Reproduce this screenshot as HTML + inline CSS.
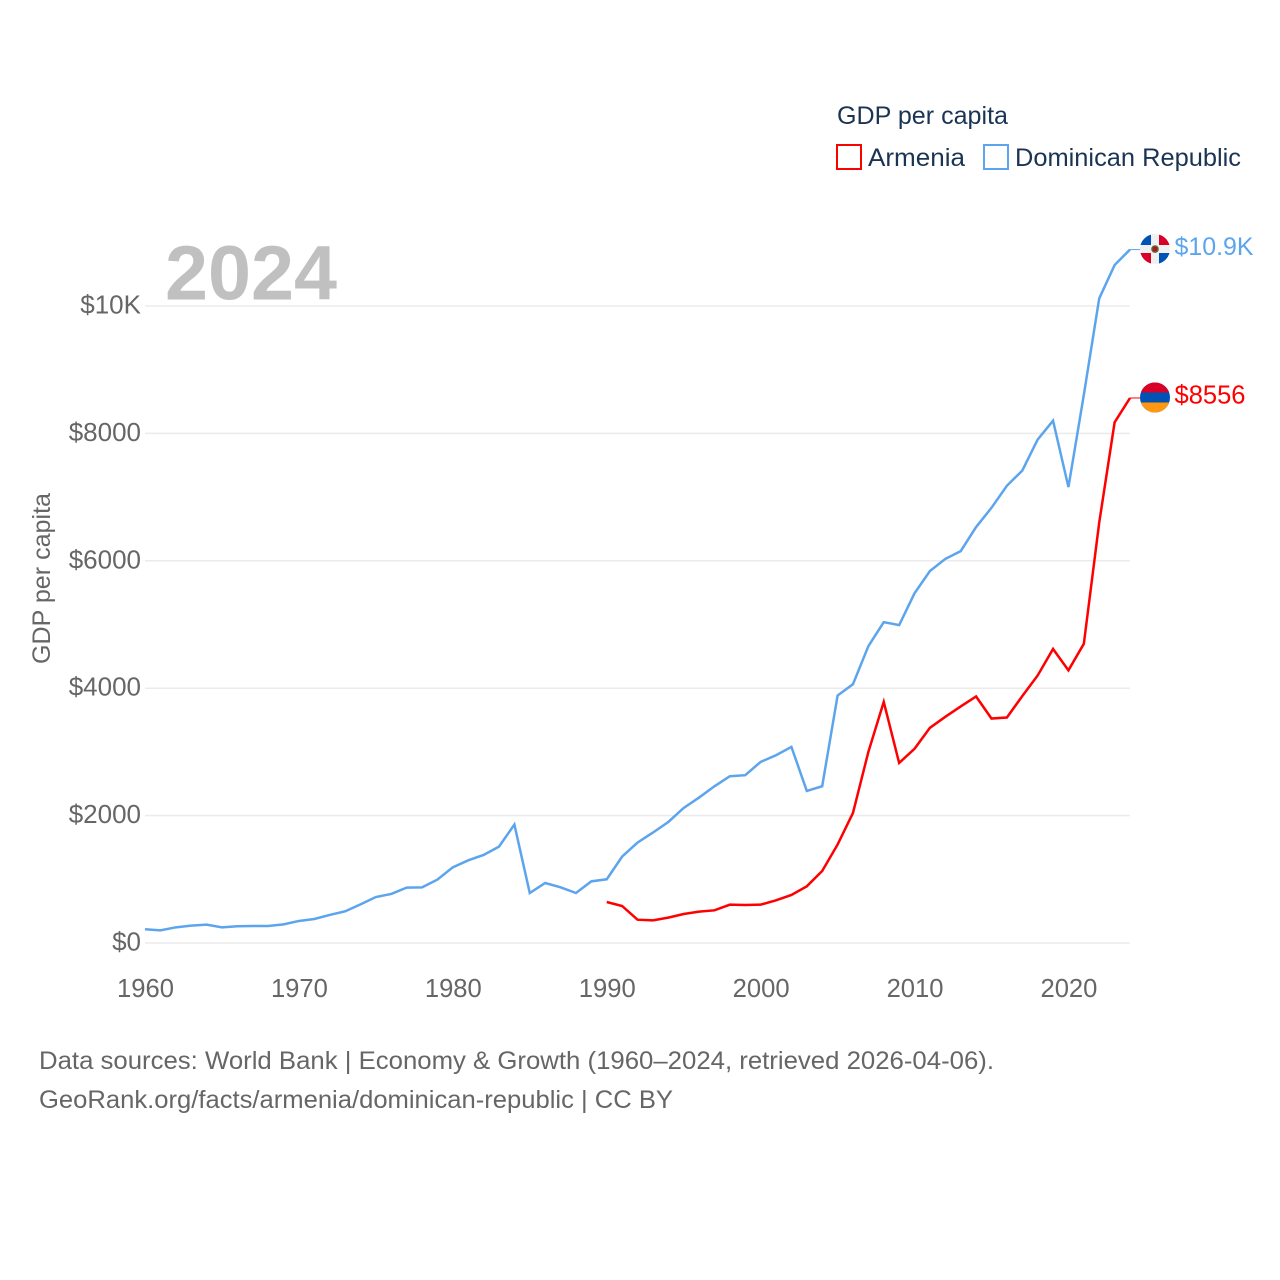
<!DOCTYPE html>
<html lang="en">
<head>
<meta charset="utf-8">
<title>GDP per capita: Armenia and Dominican Republic</title>
<style>
html,body{margin:0;padding:0;background:#fff;width:1280px;height:1280px;overflow:hidden}
svg{display:block}
text{font-family:"Liberation Sans",sans-serif}
</style>
</head>
<body>
<svg id="chart" xmlns="http://www.w3.org/2000/svg" width="1280" height="1280" viewBox="0 0 1280 1280">
  <rect x="0" y="0" width="1280" height="1280" fill="#fff"/>
  <g id="grid"></g>
  <g id="yticks"></g>
  <g id="xticks"></g>
  <text x="165" y="299.5" font-size="77" font-weight="700" fill="#c0c0c0" textLength="172" lengthAdjust="spacingAndGlyphs">2024</text>
  <text transform="translate(50 664) rotate(-90)" font-size="25" fill="#666" textLength="171" lengthAdjust="spacingAndGlyphs">GDP per capita</text>
  <g id="series"></g>
  <g id="ends"></g>

  <g>
    <text x="837" y="124" font-size="25" fill="#1a3454" textLength="171" lengthAdjust="spacingAndGlyphs">GDP per capita</text>
    <g>
      <rect x="837" y="145" width="24" height="24" fill="#fff" stroke="#ff0000" stroke-width="2"/>
      <text x="868" y="166" font-size="25" fill="#1a3454" textLength="97" lengthAdjust="spacingAndGlyphs">Armenia</text>
    </g>
    <g>
      <rect x="984" y="145" width="24" height="24" fill="#fff" stroke="#5ca5ee" stroke-width="2"/>
      <text x="1015" y="166" font-size="25" fill="#1a3454" textLength="226" lengthAdjust="spacingAndGlyphs">Dominican Republic</text>
    </g>
  </g>

  <text x="39" y="1069" font-size="25" fill="#666" textLength="955" lengthAdjust="spacingAndGlyphs">Data sources: World Bank | Economy &amp; Growth (1960–2024, retrieved 2026-04-06).</text>
  <text x="39" y="1108" font-size="25" fill="#666" textLength="634" lengthAdjust="spacingAndGlyphs">GeoRank.org/facts/armenia/dominican-republic | CC BY</text>
</svg>
<script>
const years = [1960,1961,1962,1963,1964,1965,1966,1967,1968,1969,1970,1971,1972,1973,1974,1975,1976,1977,1978,1979,1980,1981,1982,1983,1984,1985,1986,1987,1988,1989,1990,1991,1992,1993,1994,1995,1996,1997,1998,1999,2000,2001,2002,2003,2004,2005,2006,2007,2008,2009,2010,2011,2012,2013,2014,2015,2016,2017,2018,2019,2020,2021,2022,2023,2024];
const dominicanValues = [215,199,246,272,288,246,262,267,267,293,346,377,440,497,607,722,770,869,874,995,1188,1298,1382,1513,1859,785,942,874,785,968,1000,1356,1576,1733,1900,2120,2283,2460,2618,2634,2843,2948,3079,2387,2461,3885,4063,4660,5037,4990,5490,5840,6030,6151,6530,6832,7178,7416,7903,8200,7157,8605,10119,10643,10886];
const armeniaValues = [null,null,null,null,null,null,null,null,null,null,null,null,null,null,null,null,null,null,null,null,null,null,null,null,null,null,null,null,null,null,644,581,366,356,398,455,492,513,602,597,602,670,754,890,1131,1545,2042,3000,3785,2827,3049,3378,3551,3714,3870,3524,3540,3876,4200,4616,4281,4697,6600,8173,8556];
const yTickValues = [0,2000,4000,6000,8000,10000];
const yTickLabels = ["$0","$2000","$4000","$6000","$8000","$10K"];
const xTickValues = [1960,1970,1980,1990,2000,2010,2020];
const armeniaEndLabel = "$8556";
const dominicanEndLabel = "$10.9K";

const NS = "http://www.w3.org/2000/svg";
const xLeft = 145, xRight = 1130, yBase = 943, yTop = 306;
function xScale(year){ return xLeft + (year - 1960) * (xRight - xLeft) / 64; }
function yScale(value){ return yBase - value * (yBase - yTop) / 10000; }
function make(tag, attrs, parent){
  const el = document.createElementNS(NS, tag);
  for (const k in attrs) el.setAttribute(k, attrs[k]);
  parent.appendChild(el);
  return el;
}
const gridG = document.getElementById('grid');
const yG = document.getElementById('yticks');
const xG = document.getElementById('xticks');
const seriesG = document.getElementById('series');
const endsG = document.getElementById('ends');

yTickValues.forEach(function(v, i){
  const y = yScale(v);
  const line = make('line', {x1:xLeft, x2:xRight, y1:y, y2:y, stroke:'#ebebeb', 'stroke-width':1.5}, gridG);
  
  
  const t = make('text', {x:141, y:y + 7.5, 'text-anchor':'end', 'font-size':26, fill:'#666'}, yG);
  t.textContent = yTickLabels[i];
  
  
});

xTickValues.forEach(function(v){
  const t = make('text', {x:xScale(v) + 0.5, y:997, 'text-anchor':'middle', 'font-size':25.6, fill:'#666'}, xG);
  t.textContent = String(v);
  
  
});

function buildPoints(values){
  const pts = [];
  values.forEach(function(v, i){
    if (v !== null) pts.push(xScale(years[i]).toFixed(2) + ',' + yScale(v).toFixed(2));
  });
  return pts.join(' ');
}

const armeniaLine = make('polyline', {points:buildPoints(armeniaValues), fill:'none', stroke:'#ff0000', 'stroke-width':2.5}, seriesG);


const dominicanLine = make('polyline', {points:buildPoints(dominicanValues), fill:'none', stroke:'#5ca5ee', 'stroke-width':2.5}, seriesG);



const flagX = 1155, flagR = 15;
const lastX = xScale(years[years.length - 1]);

// Dominican Republic end marker
const dy = yScale(dominicanValues[dominicanValues.length - 1]);
const dStub = make('line', {x1:lastX, x2:flagX - flagR, y1:dy, y2:dy, stroke:'#5ca5ee', 'stroke-width':1}, endsG);


const dFlag = make('g', {transform:'translate(' + flagX + ' ' + (dy - 0.5) + ')'}, endsG);


make('circle', {r:flagR, fill:'#f0f0f0'}, dFlag);
make('path', {d:'M-4,-4V-14.46A15,15 0 0 0 -14.46,-4Z', fill:'#0052b4'}, dFlag);
make('path', {d:'M4,4V14.46A15,15 0 0 0 14.46,4Z', fill:'#0052b4'}, dFlag);
make('path', {d:'M4,-4V-14.46A15,15 0 0 1 14.46,-4Z', fill:'#d80027'}, dFlag);
make('path', {d:'M-4,4V14.46A15,15 0 0 1 -14.46,4Z', fill:'#d80027'}, dFlag);
make('circle', {r:3.8, fill:'#496e2d'}, dFlag);
make('rect', {x:-2, y:-2, width:4, height:4, fill:'#d80027'}, dFlag);
const dLabel = make('text', {x:1174.5, y:dy + 5.5, 'font-size':25, fill:'#5ca5ee', textLength:79, lengthAdjust:'spacingAndGlyphs'}, endsG);
dLabel.textContent = dominicanEndLabel;



// Armenia end marker
const ay = yScale(armeniaValues[armeniaValues.length - 1]);
const aStub = make('line', {x1:lastX, x2:flagX - flagR, y1:ay, y2:ay, stroke:'#ff0000', 'stroke-width':1}, endsG);


const aFlag = make('g', {transform:'translate(' + flagX + ' ' + (ay - 0.5) + ')'}, endsG);


make('circle', {r:flagR, fill:'#0052b4'}, aFlag);
make('path', {d:'M-14.15,-5A15,15 0 0 1 14.15,-5Z', fill:'#d80027'}, aFlag);
make('path', {d:'M-14.15,5A15,15 0 0 0 14.15,5Z', fill:'#ff9811'}, aFlag);
const aLabel = make('text', {x:1174.5, y:ay + 5.5, 'font-size':25.6, fill:'#ff0000', textLength:71, lengthAdjust:'spacingAndGlyphs'}, endsG);
aLabel.textContent = armeniaEndLabel;


</script>
</body>
</html>
